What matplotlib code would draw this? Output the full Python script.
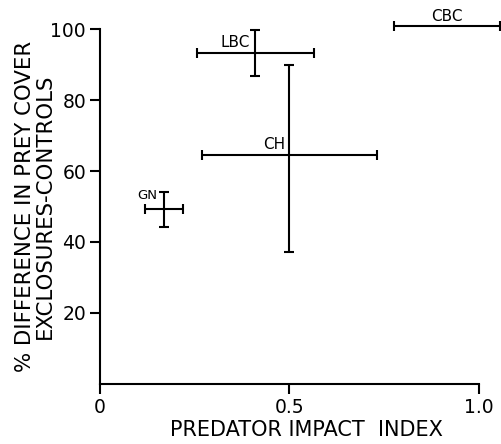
import matplotlib
matplotlib.use("Agg")
import matplotlib.pyplot as plt

# sites, predator impact index (x) and % difference in prey cover (y)
sites = ["GN", "LBC", "CH", "CBC"]
impact = [0.17, 0.41, 0.50, 0.915]
impact_err = [0.05, 0.155, 0.23, 0.14]
cover = [49.2, 93.3, 64.5, 100.8]
cover_err_low = [5.0, 6.5, 27.4, 0.0]
cover_err_high = [5.0, 6.5, 25.5, 0.0]

# label positions (data coords)
label_x = [0.125, 0.357, 0.46, 0.915]
label_y = [53.0, 96.2, 67.4, 103.6]
label_size = [9.5, 11, 11, 11]

plt.rcParams['font.family'] = ['DejaVu Sans']

fig = plt.figure(figsize=(5.02, 4.44), dpi=100)
ax = fig.add_axes([0.199, 0.136, 0.755, 0.798])

for i in range(len(sites)):
    yerr = None
    if cover_err_low[i] > 0:
        yerr = [[cover_err_low[i]], [cover_err_high[i]]]
    ax.errorbar(impact[i], cover[i], xerr=impact_err[i], yerr=yerr,
                fmt="none", ecolor="black", elinewidth=1.5, capsize=3.8,
                capthick=1.5, clip_on=False)
    ax.text(label_x[i], label_y[i], sites[i], ha="center", va="center",
            fontsize=label_size[i])

ax.set_xlim(0, 1.0)
ax.set_ylim(0, 100)
ax.set_xticks([0, 0.5, 1.0])
ax.set_xticklabels(["0", "0.5", "1.0"])
ax.set_yticks([20, 40, 60, 80, 100])
ax.spines["top"].set_visible(False)
ax.spines["right"].set_visible(False)
ax.spines["left"].set_linewidth(1.5)
ax.spines["bottom"].set_linewidth(1.5)
ax.tick_params(direction="out", length=7.5, width=1.5, labelsize=13.5, pad=2.5)

ax.set_xlabel("PREDATOR IMPACT  INDEX", fontsize=15)
ax.xaxis.set_label_coords(0.546, -0.104)
ax.set_ylabel("% DIFFERENCE IN PREY COVER\nEXCLOSURES-CONTROLS", fontsize=15.3,
              linespacing=1.0)
ax.yaxis.set_label_coords(-0.118, 0.5)

fig.savefig("out.png", dpi=100)
